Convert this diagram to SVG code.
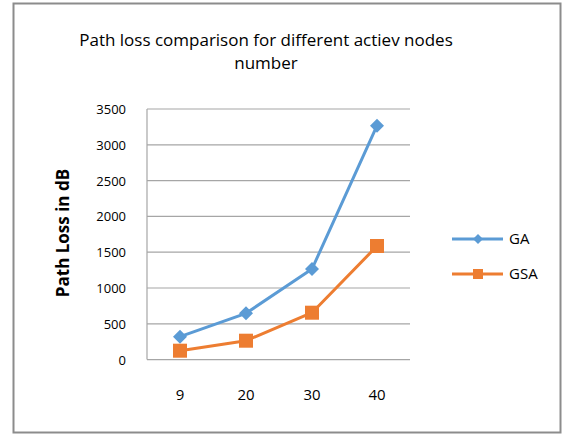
<svg xmlns="http://www.w3.org/2000/svg" width="568" height="434" viewBox="0 0 568 434">
<style>
text{font-family:"Open Sans","Liberation Sans",sans-serif;fill:#000}
.tick{font-size:13px;text-anchor:end}
.cat{font-size:15px;text-anchor:middle}
.grid{stroke:#a6a6a6;stroke-width:1.2}
.ga{stroke:#5b9bd5;stroke-width:3;fill:none;stroke-linejoin:round}
.gsa{stroke:#ed7d31;stroke-width:3;fill:none;stroke-linejoin:round}
.dia{fill:#5b9bd5}
.sq{fill:#ed7d31}
</style>
<rect x="0" y="0" width="568" height="434" fill="#fff"/>
<rect x="13.5" y="3.5" width="547" height="429" fill="#fff" stroke="#8c8c8c" stroke-width="2"/>
<g id="title">
<text x="266" y="46" font-size="17" text-anchor="middle">Path loss comparison for different actiev nodes</text>
<text x="266" y="69" font-size="17" text-anchor="middle">number</text>
</g>
<g id="grid">
<line class="grid" x1="147" y1="109" x2="410" y2="109"/>
<line class="grid" x1="147" y1="144.8" x2="410" y2="144.8"/>
<line class="grid" x1="147" y1="180.6" x2="410" y2="180.6"/>
<line class="grid" x1="147" y1="216.4" x2="410" y2="216.4"/>
<line class="grid" x1="147" y1="252.2" x2="410" y2="252.2"/>
<line class="grid" x1="147" y1="288" x2="410" y2="288"/>
<line class="grid" x1="147" y1="323.8" x2="410" y2="323.8"/>
<line class="grid" x1="147" y1="359.6" x2="410" y2="359.6"/>
<line class="grid" x1="147" y1="109" x2="147" y2="359.6"/>
</g>
<g id="y-axis">
<text class="tick" x="126" y="114">3500</text>
<text class="tick" x="126" y="150">3000</text>
<text class="tick" x="126" y="186">2500</text>
<text class="tick" x="126" y="221">2000</text>
<text class="tick" x="126" y="257">1500</text>
<text class="tick" x="126" y="293">1000</text>
<text class="tick" x="126" y="329">500</text>
<text class="tick" x="126" y="365">0</text>
<text x="69" y="233" font-size="17" font-weight="bold" text-anchor="middle" transform="rotate(-90 69 233)">Path Loss in dB</text>
</g>
<g id="x-axis">
<text class="cat" x="180" y="400">9</text>
<text class="cat" x="246" y="400">20</text>
<text class="cat" x="312" y="400">30</text>
<text class="cat" x="377" y="400">40</text>
</g>
<g id="connectors">
<polyline class="ga" points="180,336.7 246,313.3 312,269 377,125.7"/>
<polyline class="gsa" points="180,350.7 246,340.7 312,312.7 377,246"/>
</g>
<g id="series-GA">
<polygon class="dia" points="180,329.7 187,336.7 180,343.7 173,336.7"/>
<polygon class="dia" points="246,306.3 253,313.3 246,320.3 239,313.3"/>
<polygon class="dia" points="312,262 319,269 312,276 305,269"/>
<polygon class="dia" points="377,118.7 384,125.7 377,132.7 370,125.7"/>
</g>
<g id="series-GSA">
<rect class="sq" x="173" y="343.7" width="14" height="14"/>
<rect class="sq" x="239" y="333.7" width="14" height="14"/>
<rect class="sq" x="305" y="305.7" width="14" height="14"/>
<rect class="sq" x="370" y="239" width="14" height="14"/>
</g>
<g id="legend">
<line class="ga" x1="452" y1="239" x2="503" y2="239"/>
<polygon class="dia" points="478,234 483,239 478,244 473,239"/>
<text x="509" y="244" font-size="15">GA</text>
<line class="gsa" x1="452" y1="274" x2="503" y2="274"/>
<rect class="sq" x="473" y="269" width="10" height="10"/>
<text x="509" y="279" font-size="15">GSA</text>
</g>
</svg>
